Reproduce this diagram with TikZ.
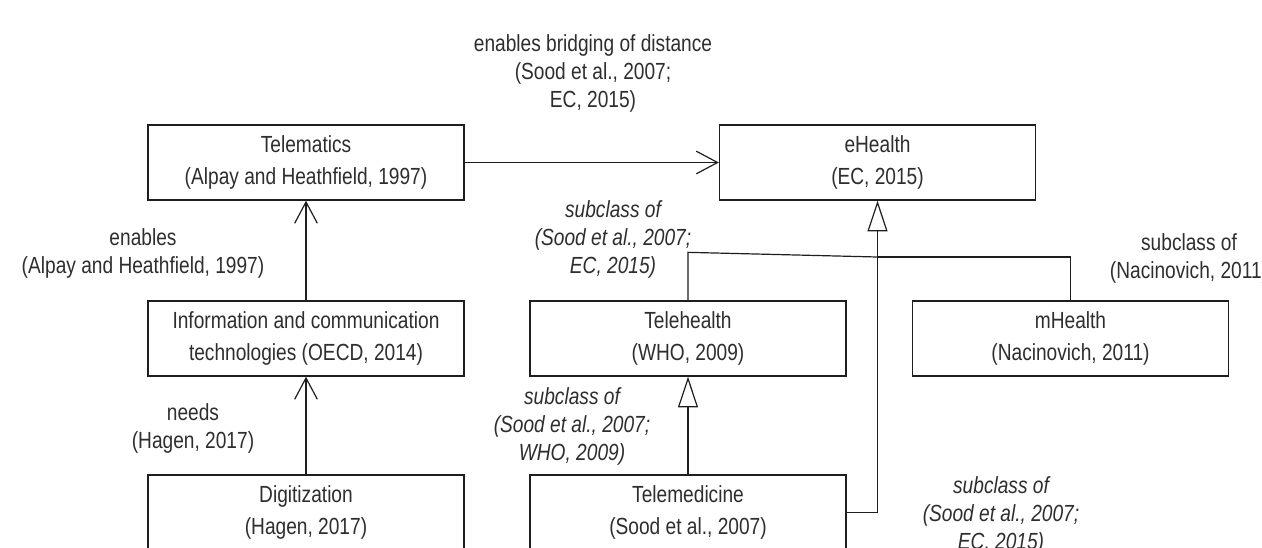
\documentclass[tikz,border=0pt]{standalone}
\usepackage{fontspec}
\setmainfont{Liberation Sans}[FakeStretch=0.82]
\usepackage{tikz}
\usetikzlibrary{arrows.meta,positioning}
\definecolor{ehink} {HTML}{1E1E1E}
\definecolor{ehtext}{HTML}{2E2E2E}
\tikzset{
  ehnode/.style={draw=ehink, line width=1pt, fill=white, align=center,
                 minimum width=237pt, minimum height=56.25pt, inner sep=0pt,
                 font=\fontsize{17.5pt}{24pt}\selectfont, text=ehtext},
  ehlabel/.style={align=center, inner sep=0pt, text=ehtext,
                  font=\fontsize{17.5pt}{21pt}\selectfont},
  ehsublabel/.style={ehlabel, font=\fontsize{17.5pt}{21pt}\selectfont\itshape},
  ehline/.style={draw=ehink, line width=0.9pt},
  ehedge/.style={ehline, -{Straight Barb[length=16pt, width=17pt, line width=0.9pt]}},
  ehsub/.style={ehline, -{Triangle[open, length=23pt, width=15pt, line width=0.9pt]}},
}
\begin{document}
\begin{tikzpicture}[x=0.75pt,y=-0.75pt]
  \useasboundingbox (0,0) rectangle (1262,547);
  \clip (0,0) rectangle (1262,547);

  % boxes
  \node[ehnode] (tele)       at (306,162.5)   {Telematics\\(Alpay and Heathfield, 1997)};
  \node[ehnode] (ehealth)    at (877.5,162.5) {eHealth\\(EC, 2015)};
  \node[ehnode] (ict)        at (306,338.5)   {Information and communication\\technologies (OECD, 2014)};
  \node[ehnode] (telehealth) at (688,338.5)   {Telehealth\\(WHO, 2009)};
  \node[ehnode] (mhealth)    at (1070.5,338.5){mHealth\\(Nacinovich, 2011)};
  \node[ehnode] (digit)      at (306,512.5)   {Digitization\\(Hagen, 2017)};
  \node[ehnode] (telemed)    at (688,512.5)   {Telemedicine\\(Sood et al., 2007)};

  % labels
  \node[ehlabel] (lbridge)  at (593,73.5) {enables bridging of distance\\(Sood et al., 2007;\\EC, 2015)};
  \node[ehlabel] (lenables) at (143,253)  {enables\\(Alpay and Heathfield, 1997)};
  \node[ehlabel] (lneeds)   at (193,428)  {needs\\(Hagen, 2017)};
  \node[ehsublabel] (lsubeh) at (613,239)   {subclass of\\(Sood et al., 2007;\\EC, 2015)};
  \node[ehlabel] (lsubmh)    at (1189,258.5){subclass of\\(Nacinovich, 2011)};
  \node[ehsublabel] (lsubth) at (572,426.5) {subclass of\\(Sood et al., 2007;\\WHO, 2009)};
  \node[ehsublabel] (lsubtm) at (1001,515)  {subclass of\\(Sood et al., 2007;\\EC, 2015)};

  % connectors
  \draw[ehedge] (tele.east) -- (ehealth.west);
  \draw[ehedge] (ict.north) -- (tele.south);
  \draw[ehedge] (digit.north) -- (ict.south);
  \draw[ehsub] (telemed.north) -- (telehealth.south);
  \coordinate (join) at (ehealth.south |- 0,257);
  \draw[ehline] (telehealth.north) -- ++(0,-48) -- (join);
  \draw[ehline] (mhealth.north) |- (join);
  \draw[ehsub] (telemed.east) -| (ehealth.south);
\end{tikzpicture}
\end{document}
